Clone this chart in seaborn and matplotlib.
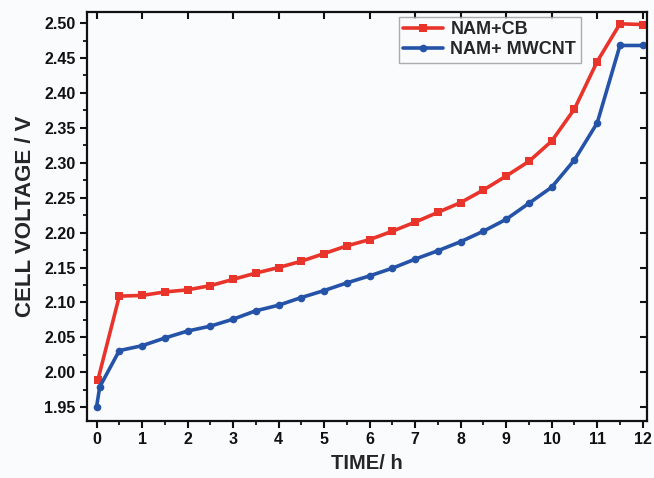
import numpy as np
import pandas as pd
import seaborn as sns
import matplotlib
matplotlib.use("Agg")
import matplotlib.pyplot as plt
from matplotlib.ticker import MultipleLocator

# Charge curves: cell voltage versus time
time_cb = [0.03, 0.5, 1.0, 1.5, 2.0, 2.5, 3.0, 3.5, 4.0, 4.5, 5.0, 5.5, 6.0,
           6.5, 7.0, 7.5, 8.0, 8.5, 9.0, 9.5, 10.0, 10.5, 11.0, 11.5, 12.0]
volt_cb = [1.989, 2.109, 2.110, 2.115, 2.118, 2.124, 2.133, 2.142, 2.150, 2.159,
           2.170, 2.181, 2.190, 2.202, 2.215, 2.229, 2.243, 2.261, 2.281, 2.302,
           2.331, 2.377, 2.445, 2.499, 2.498]

time_cnt = [0.0, 0.07, 0.5, 1.0, 1.5, 2.0, 2.5, 3.0, 3.5, 4.0, 4.5, 5.0, 5.5, 6.0,
            6.5, 7.0, 7.5, 8.0, 8.5, 9.0, 9.5, 10.0, 10.5, 11.0, 11.5, 12.0]
volt_cnt = [1.950, 1.979, 2.031, 2.038, 2.049, 2.059, 2.066, 2.076, 2.088, 2.096,
            2.107, 2.117, 2.128, 2.138, 2.149, 2.162, 2.174, 2.187, 2.202, 2.219,
            2.242, 2.265, 2.304, 2.357, 2.468, 2.468]

labels = ["NAM+CB", "NAM+ MWCNT"]

df = pd.concat([
    pd.DataFrame({"time": time_cb, "volt": volt_cb, "sample": labels[0]}),
    pd.DataFrame({"time": time_cnt, "volt": volt_cnt, "sample": labels[1]}),
], ignore_index=True)

sns.set_theme(style="ticks")
plt.rcParams["font.family"] = ["Liberation Sans", "DejaVu Sans"]
plt.rcParams["font.weight"] = "bold"

bg = "#fafbfd"
fig = plt.figure(figsize=(6.54, 4.78), dpi=100, facecolor=bg)
ax = fig.add_axes([0.133, 0.119, 0.856, 0.856], facecolor=bg)

palette = {labels[0]: "#e8342b", labels[1]: "#2553a8"}
sns.lineplot(data=df, x="time", y="volt", hue="sample", style="sample",
             markers={labels[0]: "s", labels[1]: "o"}, dashes=False,
             palette=palette, linewidth=2.6, markersize=5.5, markeredgewidth=0,
             sort=False, ax=ax)

ax.set_xlim(-0.21, 12.09)
ax.set_ylim(1.930, 2.516)
ax.xaxis.set_major_locator(MultipleLocator(1))
ax.xaxis.set_minor_locator(MultipleLocator(0.5))
ax.yaxis.set_major_locator(MultipleLocator(0.05))
ax.yaxis.set_minor_locator(MultipleLocator(0.025))
ax.yaxis.set_major_formatter(matplotlib.ticker.FormatStrFormatter("%.2f"))

for s in ax.spines.values():
    s.set_visible(True)
    s.set_linewidth(1.6)
    s.set_color("#111111")

ax.tick_params(which="major", direction="out", length=5, width=1.5,
               labelsize=11.5, colors="#111111", pad=3)
ax.tick_params(which="minor", direction="out", length=3, width=1.3, colors="#111111")
for lab in ax.get_xticklabels() + ax.get_yticklabels():
    lab.set_fontweight("bold")

# mirrored inward ticks on top and right
secx = ax.secondary_xaxis("top")
secx.xaxis.set_major_locator(MultipleLocator(1))
secx.tick_params(direction="in", length=5, width=1.5, labeltop=False, colors="#111111")
secy = ax.secondary_yaxis("right")
secy.yaxis.set_major_locator(MultipleLocator(0.05))
secy.tick_params(direction="in", length=5, width=1.5, labelright=False, colors="#111111")
secx.spines["top"].set_visible(False)
secy.spines["right"].set_visible(False)

ax.set_xlabel("TIME/ h", fontsize=14.5, fontweight="bold", labelpad=5)
ax.set_ylabel("CELL VOLTAGE / V", fontsize=16, fontweight="bold", labelpad=6)

leg = ax.legend(loc="upper right", bbox_to_anchor=(0.882, 0.988), frameon=True,
                fancybox=False, edgecolor="#999999", fontsize=13,
                handlelength=2.2, borderpad=0.25, labelspacing=0.15,
                handletextpad=0.4, borderaxespad=0.0)
leg.get_frame().set_linewidth(1.0)
leg.get_frame().set_facecolor(bg)
for t in leg.get_texts():
    t.set_fontweight("bold")

fig.savefig("out.png", dpi=100, facecolor=bg)
